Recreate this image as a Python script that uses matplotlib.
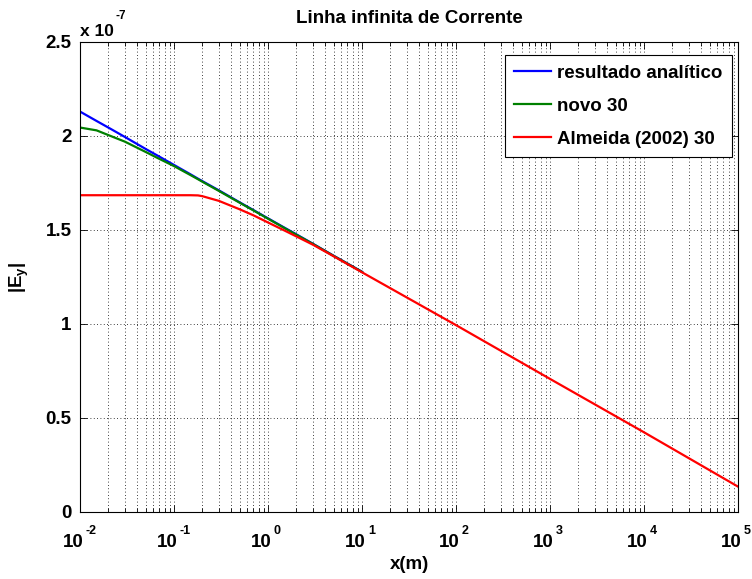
import matplotlib
matplotlib.use("Agg")
import matplotlib.pyplot as plt
import matplotlib.transforms as mtransforms
from matplotlib.ticker import LogLocator, NullFormatter, FixedLocator

plt.rcParams['font.family'] = ['Liberation Sans', 'DejaVu Sans']
plt.rcParams['mathtext.fontset'] = 'custom'
plt.rcParams['mathtext.rm'] = 'Liberation Sans:bold'
plt.rcParams['mathtext.bf'] = 'Liberation Sans:bold'
plt.rcParams['mathtext.it'] = 'Liberation Sans:bold'
plt.rcParams['mathtext.default'] = 'bf'

# data (|Ey| in units of 1e-7)
x_curto = [0.01, 0.015, 0.02, 0.03, 0.05, 0.07, 0.1, 0.15, 0.18, 0.2, 0.3, 0.5, 0.7,
           1, 1.5, 2, 3, 5, 10]
analitico = [2.130, 2.080, 2.045, 1.995, 1.931, 1.890, 1.846, 1.796, 1.773, 1.760,
             1.711, 1.647, 1.606, 1.562, 1.512, 1.477, 1.427, 1.363, 1.278]
novo30 = [2.045, 2.030, 2.005, 1.970, 1.915, 1.878, 1.840, 1.792, 1.770, 1.757,
          1.708, 1.645, 1.604, 1.560, 1.510, 1.475, 1.426, 1.362, 1.277]
x_longo = [0.01, 0.015, 0.02, 0.03, 0.05, 0.07, 0.1, 0.15, 0.18, 0.2, 0.3, 0.5, 0.7,
           1, 1.5, 2, 3, 5, 10, 100, 1e3, 1e4, 1e5]
almeida30 = [1.685, 1.685, 1.685, 1.685, 1.685, 1.685, 1.685, 1.685, 1.684, 1.680,
             1.655, 1.610, 1.578, 1.540, 1.497, 1.466, 1.422, 1.360, 1.275,
             0.994, 0.708, 0.424, 0.135]
labels = ['resultado analítico', 'novo 30', 'Almeida (2002) 30']
yticks = [0, 0.5, 1, 1.5, 2, 2.5]
ytick_labels = ['0', '0.5', '1', '1.5', '2', '2.5']
xticks = [1e-2, 1e-1, 1e0, 1e1, 1e2, 1e3, 1e4, 1e5]
xexps = ['-2', '-1', '0', '1', '2', '3', '4', '5']

W, H = 752, 579
fig = plt.figure(figsize=(W/100, H/100), dpi=100)
ax = fig.add_axes([80/W, 1-512/H, (738-80)/W, (512-42)/H])

ax.plot(x_curto, analitico, color=(0, 0, 1), lw=1.6, label=labels[0])
ax.plot(x_curto, novo30, color=(0, 0.5, 0), lw=1.6, label=labels[1])
ax.plot(x_longo, almeida30, color=(1, 0, 0), lw=1.6, label=labels[2])

ax.set_xscale('log')
ax.set_xlim(1e-2, 1e5)
ax.set_ylim(0, 2.5)
ax.xaxis.set_major_locator(FixedLocator(xticks))
ax.xaxis.set_minor_locator(LogLocator(base=10, subs=range(2, 10), numticks=20))
ax.xaxis.set_minor_formatter(NullFormatter())
ax.set_xticks(xticks)
ax.set_xticklabels([''] * len(xticks))
ax.set_yticks(yticks)
ax.set_yticklabels(ytick_labels)
for lab in ax.get_yticklabels():
    lab.set_fontsize(13.5)
    lab.set_fontweight('bold')

# MATLAB-style "10" with raised exponent
trans = mtransforms.blended_transform_factory(ax.transData, ax.transAxes)
for xt, ex in zip(xticks, xexps):
    t1 = trans + mtransforms.ScaledTranslation(4 / 100, -35 / 100, fig.dpi_scale_trans)
    ax.text(xt, 0, '10', transform=t1, ha='right', va='baseline',
            fontsize=13.5, fontweight='bold')
    t2 = trans + mtransforms.ScaledTranslation(6 / 100, -22 / 100, fig.dpi_scale_trans)
    ax.text(xt, 0, ex, transform=t2, ha='left', va='baseline',
            fontsize=9, fontweight='bold')

ax.tick_params(which='both', direction='in', top=True, right=True, width=0.6)
ax.tick_params(which='major', length=5)
ax.tick_params(axis='y', which='major', pad=6)
ax.tick_params(which='minor', length=3)
ax.grid(True, which='major', axis='both', linestyle=(0, (1, 3)), color='black', lw=0.6)
ax.grid(True, which='minor', axis='x', linestyle=(0, (1, 3)), color='black', lw=0.6)
for s in ax.spines.values():
    s.set_linewidth(0.8)

ax.set_title('Linha infinita de Corrente', fontsize=13.5, fontweight='bold', pad=14)
ax.set_xlabel('x(m)', fontsize=13.5, fontweight='bold')
ax.xaxis.set_label_coords(0.5, (512 - 556) / 470)
ax.set_ylabel(r'$|E_y|$', fontsize=13.5)
ax.yaxis.set_label_coords((31 - 80) / 658, 0.5)

t3 = ax.transAxes + mtransforms.ScaledTranslation(0, 6 / 100, fig.dpi_scale_trans)
ax.text(0.0, 1.0, 'x 10', transform=t3, fontsize=12.5, fontweight='bold',
        ha='left', va='baseline')
t4 = ax.transAxes + mtransforms.ScaledTranslation(35 / 100, 23 / 100, fig.dpi_scale_trans)
ax.text(0.0, 1.0, '-7', transform=t4, fontsize=8.5, fontweight='bold',
        ha='left', va='baseline')

leg = ax.legend(loc='upper right', bbox_to_anchor=((732 - 80) / 658, (512 - 55) / 470),
                fancybox=False, edgecolor='black', framealpha=1,
                prop={'weight': 'bold', 'size': 13.5}, handlelength=1.95,
                borderaxespad=0.0, labelspacing=0.85, handletextpad=0.35,
                borderpad=0.5)
leg.get_frame().set_linewidth(0.8)

fig.savefig('out.png', dpi=100)
